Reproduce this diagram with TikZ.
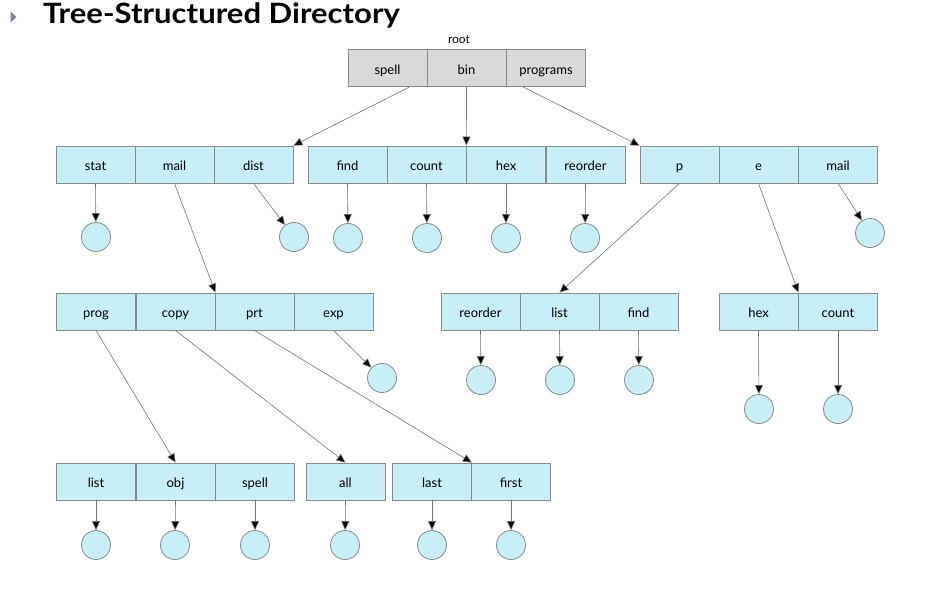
\documentclass[tikz,border=0pt]{standalone}
\usepackage{fontspec}
\setmainfont{Lato}
\newfontfamily\titlefont{Lato}[FakeStretch=1.11]
\usetikzlibrary{arrows.meta,calc}
\definecolor{cellfill}{HTML}{C8EEF8}
\definecolor{rootfill}{HTML}{D9D9D9}
\definecolor{cellline}{HTML}{8A8A8A}
\definecolor{bulletcol}{HTML}{7A86A8}
\begin{document}
\begin{tikzpicture}[x=1pt,y=-1pt,
  cell/.style={draw=cellline,fill=cellfill,line width=0.8pt,minimum width=79pt,minimum height=37pt,inner sep=0pt,text height=14pt,text depth=1.5pt,font=\fontsize{13}{15}\selectfont},
  rootcell/.style={cell,fill=rootfill},
  leaf/.style={circle,draw=cellline,fill=cellfill,line width=0.8pt,minimum size=29pt,inner sep=0pt},
  link/.style={draw=black!55,line width=0.6pt,-{Triangle[length=9pt,width=8pt,fill=black]}}]
\useasboundingbox (0,0) rectangle (936,598);
% title
\fill[bulletcol] (10.5,11.5) -- (16.5,17) -- (10.5,22.5) -- cycle;
\node[anchor=base west,inner sep=0pt,font=\titlefont\bfseries\fontsize{28}{30}\selectfont] (title) at (43,23.5) {Tree-Structured Directory};
% root
\node[inner sep=0pt,font=\fontsize{12}{14}\selectfont] (rootlbl) at (459,40) {root};
\node[rootcell] (rspell) at (387.5,68) {spell};
\node[rootcell] (rbin) at (466.5,68) {bin};
\node[rootcell] (rprog) at (546,68) {programs};
% level 1
\node[cell] (stat) at (95.5,164.5) {stat};
\node[cell] (mailA) at (174.5,164.5) {mail};
\node[cell] (dist) at (253.5,164.5) {dist};
\node[cell] (findB) at (347.5,164.5) {find};
\node[cell] (countB) at (426.5,164.5) {count};
\node[cell] (hexB) at (506,164.5) {hex};
\node[cell] (reorderB) at (585.5,164.5) {reorder};
\node[cell] (p) at (679.5,164.5) {p};
\node[cell] (e) at (758.5,164.5) {e};
\node[cell] (mailC) at (838,164.5) {mail};
% level 1 leaves
\node[leaf] (cstat) at (96,237) {};
\node[leaf] (cdist) at (294,237) {};
\node[leaf] (cfindB) at (348,238) {};
\node[leaf] (ccountB) at (427,238) {};
\node[leaf] (chexB) at (506,238) {};
\node[leaf] (creorderB) at (585,238) {};
\node[leaf] (cmailC) at (870,233) {};
% level 2
\node[cell] (prog) at (96,311.5) {prog};
\node[cell] (copy) at (175.5,311.5) {copy};
\node[cell] (prt) at (254.5,311.5) {prt};
\node[cell] (exp) at (333.5,311.5) {exp};
\node[cell] (reorderE) at (480.5,311.5) {reorder};
\node[cell] (listE) at (559.5,311.5) {list};
\node[cell] (findE) at (638.5,311.5) {find};
\node[cell] (hexF) at (758.5,311.5) {hex};
\node[cell] (countF) at (838,311.5) {count};
% level 2 leaves
\node[leaf] (cexp) at (382,378) {};
\node[leaf] (creorderE) at (481,380) {};
\node[leaf] (clistE) at (560,380) {};
\node[leaf] (cfindE) at (639,380) {};
\node[leaf] (chexF) at (759,409) {};
\node[leaf] (ccountF) at (838,409) {};
% level 3
\node[cell] (listG) at (96,481.5) {list};
\node[cell] (obj) at (175.5,481.5) {obj};
\node[cell] (spellG) at (255,481.5) {spell};
\node[cell] (all) at (345.5,481.5) {all};
\node[cell] (last) at (432,481.5) {last};
\node[cell] (first) at (511,481.5) {first};
% level 3 leaves
\node[leaf] (clistG) at (96,545) {};
\node[leaf] (cobj) at (175,545) {};
\node[leaf] (cspellG) at (255,545) {};
\node[leaf] (call) at (345,545) {};
\node[leaf] (clast) at (432,545) {};
\node[leaf] (cfirst) at (511,545) {};
% connectors
\coordinate (spellout) at ($(rspell.south)+(22,0)$);
\coordinate (progout) at ($(rprog.south)+(-23,0)$);
\draw[link] (spellout) -- (dist.north east);
\draw[link] (rbin.south) -- (countB.north east);
\draw[link] (progout) -- (p.north west);
\draw[link] (stat.south) -- (cstat);
\draw[link] (dist.south) -- (cdist);
\draw[link] (findB.south) -- (cfindB);
\draw[link] (countB.south) -- (ccountB);
\draw[link] (hexB.south) -- (chexB);
\draw[link] (reorderB.south) -- (creorderB);
\draw[link] (mailC.south) -- (cmailC);
\draw[link] (mailA.south) -- (copy.north east);
\draw[link] (p.south) -- (listE.north);
\draw[link] (e.south) -- (hexF.north east);
\draw[link] (exp.south) -- (cexp);
\draw[link] (reorderE.south) -- (creorderE);
\draw[link] (listE.south) -- (clistE);
\draw[link] (findE.south) -- (cfindE);
\draw[link] (hexF.south) -- (chexF);
\draw[link] (countF.south) -- (ccountF);
\draw[link] (prog.south) -- (obj.north);
\draw[link] (copy.south) -- (all.north);
\draw[link] (prt.south) -- (last.north east);
\draw[link] (listG.south) -- (clistG);
\draw[link] (obj.south) -- (cobj);
\draw[link] (spellG.south) -- (cspellG);
\draw[link] (all.south) -- (call);
\draw[link] (last.south) -- (clast);
\draw[link] (first.south) -- (cfirst);
\end{tikzpicture}
\end{document}
